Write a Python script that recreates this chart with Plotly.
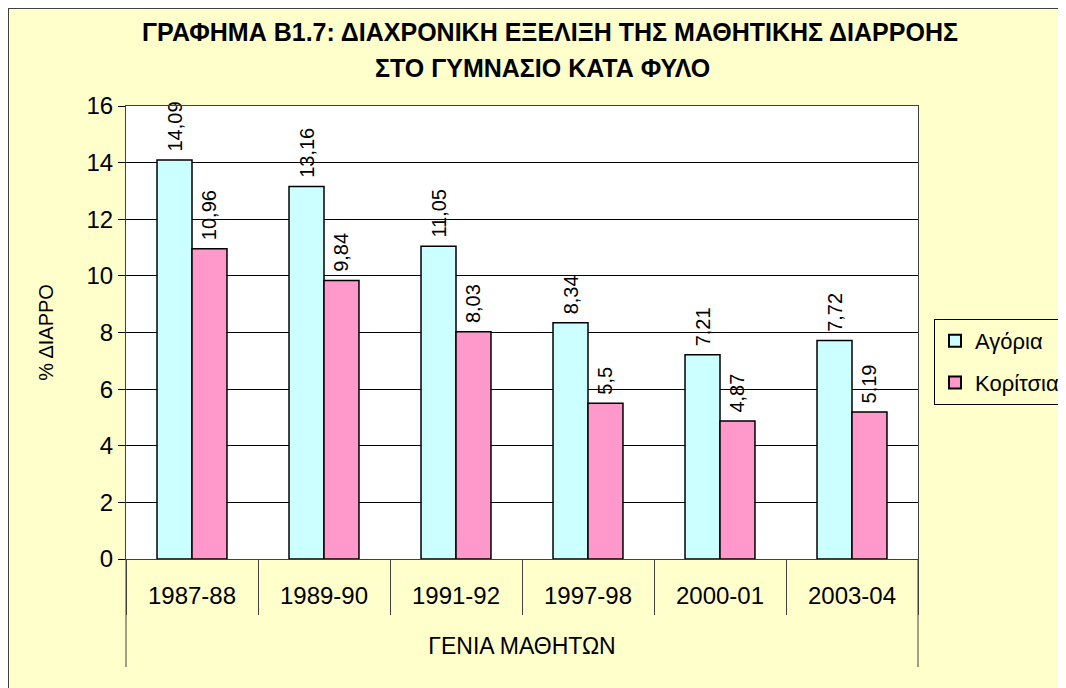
import plotly.graph_objects as go

years = ["1987-88", "1989-90", "1991-92", "1997-98", "2000-01", "2003-04"]
x_title = "ΓΕΝΙΑ ΜΑΘΗΤΩΝ"
boys = [14.09, 13.16, 11.05, 8.34, 7.21, 7.72]
girls = [10.96, 9.84, 8.03, 5.5, 4.87, 5.19]
series_names = ["Αγόρια", "Κορίτσια"]
title_lines = ["ΓΡΑΦΗΜΑ Β1.7: ΔΙΑΧΡΟΝΙΚΗ ΕΞΕΛΙΞΗ ΤΗΣ ΜΑΘΗΤΙΚΗΣ ΔΙΑΡΡΟΗΣ",
               "ΣΤΟ ΓΥΜΝΑΣΙΟ ΚΑΤΑ ΦΥΛΟ"]
y_title = "% ΔΙΑΡΡΟ"

# the page body adds an 8px margin, which gives the white strip at top/left
OFF = 8
W, H = 1066 - OFF, 688 - OFF
L, R, T, B = 118, 148, 98, 129
FONT = "Arial, 'Liberation Sans', sans-serif"
YELLOW = "#FFFFCC"


def px_x(sx):
    return (sx - OFF - L) / (W - L - R)


def px_y(sy):
    return (H - B - (sy - OFF)) / (H - T - B)


def fmt(v):
    # leading no-break space keeps the rotated label a little off the bar top
    return "\u00a0" + f"{v:g}".replace(".", ",")


fig = go.Figure()
for i, (name, vals, color) in enumerate([(series_names[0], boys, "#CCFFFF"),
                                         (series_names[1], girls, "#FF99CC")]):
    fig.add_trace(go.Bar(
        x=years, y=vals, name=name, legendgroup=f"g{i}",
        marker=dict(color=color, line=dict(color="black", width=1.5)),
        text=[fmt(v) for v in vals],
        textposition="outside", textangle=-90, constraintext="none",
        textfont=dict(family=FONT, size=20, color="black"),
        cliponaxis=False,
    ))

fig.update_layout(
    width=W, height=H,
    margin=dict(l=L, r=R, t=T, b=B, autoexpand=False),
    paper_bgcolor=YELLOW, plot_bgcolor="white",
    barmode="group", bargap=0.47, bargroupgap=0,
    font=dict(family=FONT, color="black"),
    title=dict(text="<b>" + title_lines[0] + "</b>", x=(550 - OFF) / W,
               xanchor="center", y=1 - (32 - OFF) / H, yanchor="middle",
               font=dict(size=25, family=FONT)),
    legend=dict(x=px_x(934), y=px_y(319), xanchor="left", yanchor="top",
                bgcolor=YELLOW, bordercolor="black", borderwidth=1,
                font=dict(size=22, family=FONT), itemsizing="constant",
                traceorder="grouped", tracegroupgap=10),
    showlegend=True,
)

fig.add_annotation(text="<b>" + title_lines[1] + "</b>", xref="paper", yref="paper",
                   x=px_x(542), y=px_y(68), xanchor="center", yanchor="middle",
                   showarrow=False, font=dict(size=25, family=FONT))

fig.update_yaxes(range=[0, 16], dtick=2, tickfont=dict(size=24),
                 ticks="outside", ticklen=7, tickcolor="black",
                 showgrid=True, gridcolor="black", gridwidth=1,
                 showline=True, linecolor="#404040", mirror=True, zeroline=False,
                 title=dict(text=y_title, font=dict(size=20), standoff=27))

fig.update_xaxes(type="category", tickfont=dict(size=24), ticks="outside", ticklen=55,
                 tickcolor="#404040", tickson="boundaries",
                 ticklabelstandoff=15,
                 showline=True, linecolor="#404040", mirror=True, showgrid=False,
                 title=dict(text=x_title, font=dict(size=23), standoff=30))

# long end lines that close the category label area on both sides
for side in (0, 1):
    fig.add_shape(type="line", xref="x domain", yref="paper", x0=side, x1=side,
                  y0=0, y1=px_y(667), line=dict(color="#404040", width=1))

# chart-area frame on the top and left edges
fig.add_shape(type="line", xref="paper", yref="paper", x0=px_x(OFF), x1=px_x(1066),
              y0=px_y(OFF), y1=px_y(OFF), line=dict(color="#404040", width=2))
fig.add_shape(type="line", xref="paper", yref="paper", x0=px_x(OFF), x1=px_x(OFF),
              y0=px_y(OFF), y1=px_y(688), line=dict(color="#404040", width=2))

fig.write_html("out.html")
